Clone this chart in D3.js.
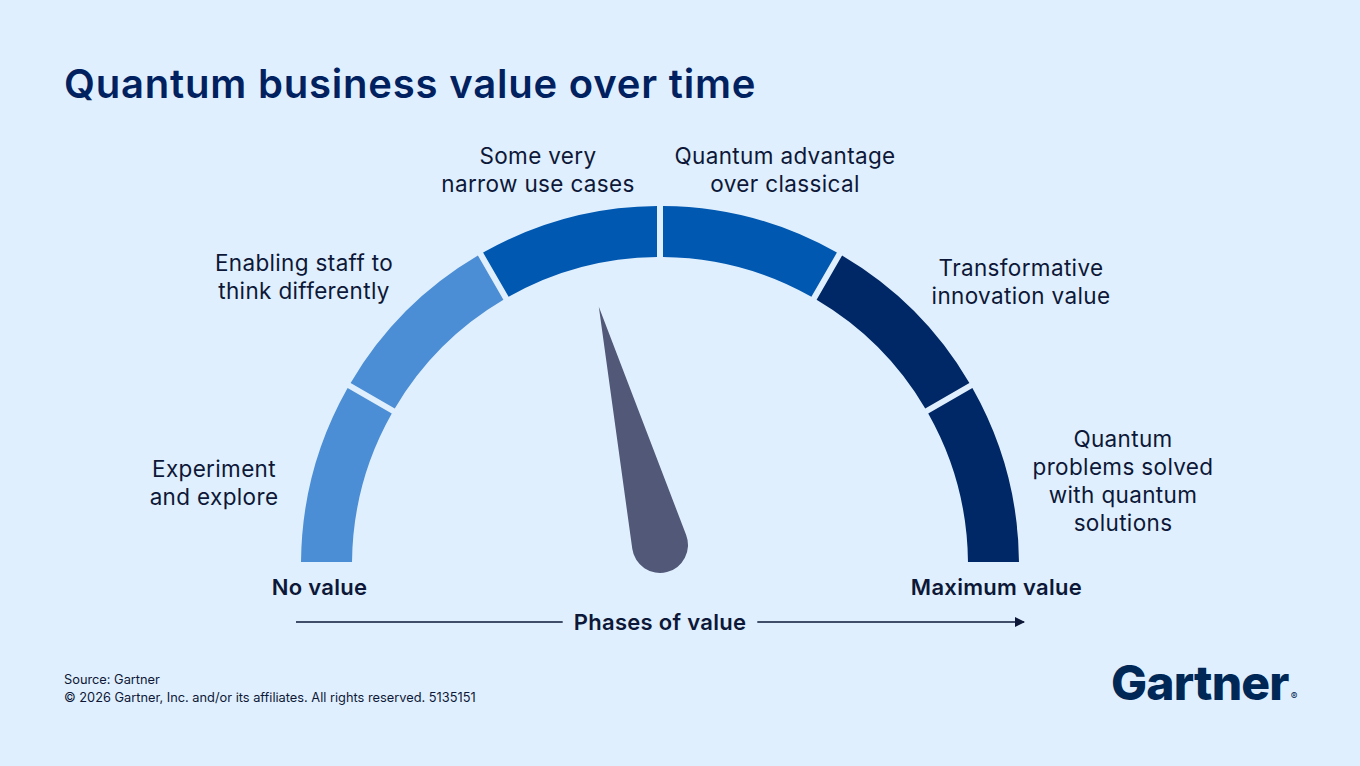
<!DOCTYPE html>
<html>
<head>
<meta charset="utf-8">
<script src="https://cdn.jsdelivr.net/npm/d3@7"></script>
<style>
  html, body { margin: 0; padding: 0; background: #e0effd; }
  svg { display: block; font-family: "Inter", "Noto Sans", sans-serif; }
</style>
</head>
<body>
<svg id="chart"></svg>
<script>
const phases = [
	"Experiment|and explore",
	"Enabling staff to|think differently",
	"Some very|narrow use cases",
	"Quantum advantage|over classical",
	"Transformative|innovation value",
	"Quantum|problems solved|with quantum|solutions"
];
const phaseColors = ["#4b8ed5", "#4b8ed5", "#0058b1", "#0058b1", "#002866", "#002866"];
const needleValue = 2.52;
const endLabels = ["No value", "Maximum value"];
const axisTitle = "Phases of value";
const title = "Quantum business value over time";
const footer = ["Source: Gartner", "\u00a9 2026 Gartner, Inc. and/or its affiliates. All rights reserved. 5135151"];

// label anchors relative to gauge centre (layout only)
const labelOffsets = [[-446, -88], [-356, -294], [-122, -401], [125, -401], [361, -289], [463, -118]];

const width = 1360, height = 766;
const center = { x: 660, y: 565 };
const radius = { inner: 308, outer: 359 };
const ink = "#0d1838";

const $svg = d3.select("#chart").attr("width", width).attr("height", height);

const angle = d3.scaleLinear().domain([0, phases.length]).range([-Math.PI / 2, Math.PI / 2]);

const arcBuilder = d3.arc()
	.innerRadius(radius.inner)
	.outerRadius(radius.outer)
	.padRadius(100)
	.padAngle(0.06);

const $gauge = $svg.append("g").attr("transform", `translate(${center.x},${center.y})`);

$gauge.selectAll(".seg")
	.data(phases)
	.enter()
	.append("path")
	.attr("class", "seg")
	.attr("fill", (d, i) => phaseColors[i])
	.attr("d", (d, i) => arcBuilder({ startAngle: angle(i), endAngle: angle(i + 1) }));

// phase labels
const $labels = $gauge.selectAll(".phase")
	.data(phases)
	.enter()
	.append("text")
	.attr("class", "phase")
	.attr("text-anchor", "middle")
	.attr("font-size", 22.5)
	.attr("letter-spacing", 0.35)
	.attr("fill", ink)
	.attr("transform", (d, i) => `translate(${labelOffsets[i][0]},${labelOffsets[i][1]})`);

$labels.selectAll("tspan")
	.data((d) => d.split("|"))
	.enter()
	.append("tspan")
	.attr("x", 0)
	.attr("y", (d, i) => i * 28)
	.text((d) => d);

// needle
const needle = { length: 246, r: 28, dy: -20 };
const alpha = Math.acos(needle.r / needle.length);
const pR = [needle.r * Math.sin(alpha), -needle.r * Math.cos(alpha)];
const pL = [-pR[0], pR[1]];
$gauge.append("path")
	.attr("fill", "#525878")
	.attr("transform", `translate(0,${needle.dy}) rotate(${angle(needleValue) * 180 / Math.PI})`)
	.attr("d", `M0,${-needle.length}L${pR[0]},${pR[1]}A${needle.r},${needle.r} 0 1 1 ${pL[0]},${pL[1]}Z`);

// end labels
$gauge.selectAll(".end")
	.data(endLabels)
	.enter()
	.append("text")
	.attr("class", "end")
	.attr("text-anchor", "middle")
	.attr("x", (d, i) => (i == 0 ? -1 : 1) * (radius.inner + radius.outer) / 2 + (i == 0 ? -7 : 3))
	.attr("y", 30)
	.attr("font-size", 22)
	.attr("letter-spacing", 0.3)
	.attr("font-weight", 600)
	.attr("fill", ink)
	.text((d) => d);

// axis arrow
const $axisText = $gauge.append("text")
	.attr("text-anchor", "middle")
	.attr("y", 65)
	.attr("font-size", 22)
	.attr("letter-spacing", 0.3)
	.attr("font-weight", 600)
	.attr("fill", ink)
	.text(axisTitle);
const half = $axisText.node().getComputedTextLength() / 2 + 11;
$svg.append("defs").append("marker")
	.attr("id", "arrow")
	.attr("viewBox", "0 0 10 10")
	.attr("refX", 9).attr("refY", 5)
	.attr("markerWidth", 10).attr("markerHeight", 10)
	.attr("markerUnits", "userSpaceOnUse")
	.attr("orient", "auto")
	.append("path").attr("d", "M0,0L10,5L0,10Z").attr("fill", ink);
$gauge.append("line")
	.attr("x1", -364).attr("x2", -half).attr("y1", 57).attr("y2", 57)
	.attr("stroke", ink).attr("stroke-width", 1.6);
$gauge.append("line")
	.attr("x1", half).attr("x2", 364).attr("y1", 57).attr("y2", 57)
	.attr("stroke", ink).attr("stroke-width", 1.6)
	.attr("marker-end", "url(#arrow)");

// title
$svg.append("text")
	.attr("x", 64).attr("y", 98)
	.attr("font-size", 40)
	.attr("letter-spacing", 0.8)
	.attr("font-weight", 600)
	.attr("fill", "#002160")
	.text(title);

// footer
$svg.selectAll(".foot")
	.data(footer)
	.enter()
	.append("text")
	.attr("class", "foot")
	.attr("x", 64)
	.attr("y", (d, i) => 684 + i * 18)
	.attr("font-size", 12.8)
	.attr("fill", ink)
	.text((d) => d);

// logo
const $logo = $svg.append("text")
	.attr("x", 1111).attr("y", 700)
	.attr("font-size", 48)
	.attr("font-weight", 800)
	.attr("letter-spacing", -0.8)
	.attr("fill", "#002856");
$logo.append("tspan").text("Gartner");
$logo.append("tspan").attr("font-size", 10).attr("font-weight", 400).attr("dx", 2).text("\u00ae");
</script>
</body>
</html>
